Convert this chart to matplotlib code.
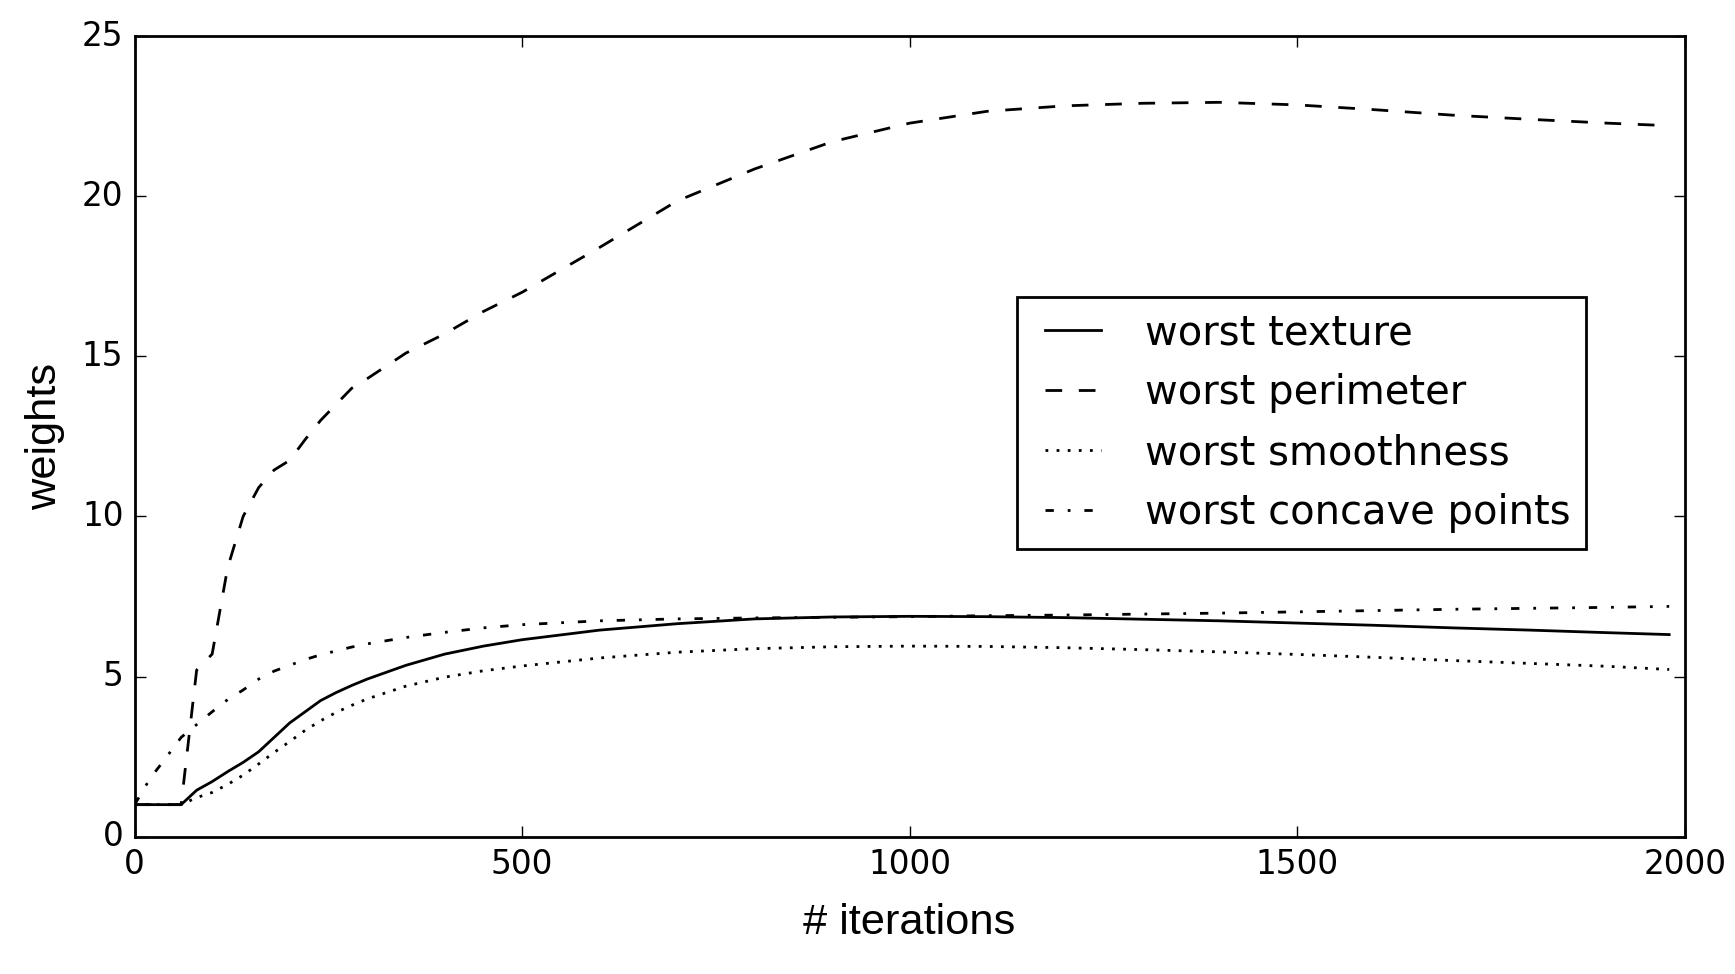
import matplotlib
matplotlib.use("Agg")
import matplotlib.pyplot as plt

plt.style.use("classic")

iterations = [0, 20, 40, 60, 80, 100, 120, 140, 160, 180, 200, 220, 240, 260, 280, 300,
              350, 400, 450, 500, 600, 700, 800, 900, 1000, 1100, 1200, 1300, 1400,
              1500, 1600, 1700, 1800, 1900, 1980]

worst_texture = [1.0, 1.0, 1.0, 1.0, 1.45, 1.72, 2.03, 2.32, 2.65, 3.1, 3.55, 3.9, 4.25, 4.5,
                 4.72, 4.92, 5.35, 5.7, 5.95, 6.15, 6.45, 6.65, 6.8, 6.86, 6.88, 6.87, 6.84,
                 6.79, 6.74, 6.67, 6.6, 6.52, 6.45, 6.37, 6.31]

worst_perimeter = [1.0, 1.0, 1.0, 1.0, 5.2, 5.7, 8.4, 10.0, 10.9, 11.45, 11.75, 12.4, 13.0,
                   13.5, 14.0, 14.3, 15.1, 15.7, 16.4, 17.0, 18.4, 19.85, 20.85, 21.7, 22.28,
                   22.65, 22.82, 22.9, 22.93, 22.85, 22.7, 22.53, 22.4, 22.28, 22.2]

worst_smoothness = [1.0, 1.0, 1.0, 1.0, 1.22, 1.38, 1.63, 1.92, 2.27, 2.63, 2.97, 3.32, 3.62,
                    3.88, 4.1, 4.3, 4.7, 4.98, 5.18, 5.33, 5.58, 5.76, 5.87, 5.93, 5.95, 5.94,
                    5.9, 5.84, 5.77, 5.69, 5.6, 5.5, 5.41, 5.32, 5.22]

worst_concave = [1.0, 1.82, 2.45, 3.1, 3.5, 3.9, 4.28, 4.58, 4.92, 5.17, 5.35, 5.53, 5.68,
                 5.8, 5.92, 6.02, 6.22, 6.38, 6.52, 6.62, 6.74, 6.8, 6.83, 6.85, 6.87, 6.9,
                 6.92, 6.95, 6.98, 7.02, 7.06, 7.1, 7.13, 7.16, 7.19]

fig = plt.figure(figsize=(8.675, 4.87), dpi=200, facecolor="white")
ax = fig.add_axes([0.0776, 0.141, 0.8934, 0.822])

ax.plot(iterations, worst_texture, color="black", linestyle="-", lw=1, label="worst texture")
ax.plot(iterations, worst_perimeter, color="black", linestyle="--", lw=1, label="worst perimeter")
ax.plot(iterations, worst_smoothness, color="black", linestyle=":", lw=1, label="worst smoothness")
ax.plot(iterations, worst_concave, color="black", linestyle="-.", lw=1, label="worst concave points")

ax.set_xlim(0, 2000)
ax.set_ylim(0, 25)
ax.set_xticks([0, 500, 1000, 1500, 2000])
ax.set_yticks([0, 5, 10, 15, 20, 25])
ax.tick_params(labelsize=11.8)
ax.set_xlabel("# iterations", fontsize=15.6, family="Liberation Sans", labelpad=8)
ax.set_ylabel("weights", fontsize=15.6, family="Liberation Sans", labelpad=6)

ax.legend(loc="upper left", bbox_to_anchor=(0.569, 0.674), fontsize=14.4,
          borderaxespad=0, handlelength=2.0, handletextpad=0.8)

fig.savefig("out.png", dpi=200, facecolor="white")
